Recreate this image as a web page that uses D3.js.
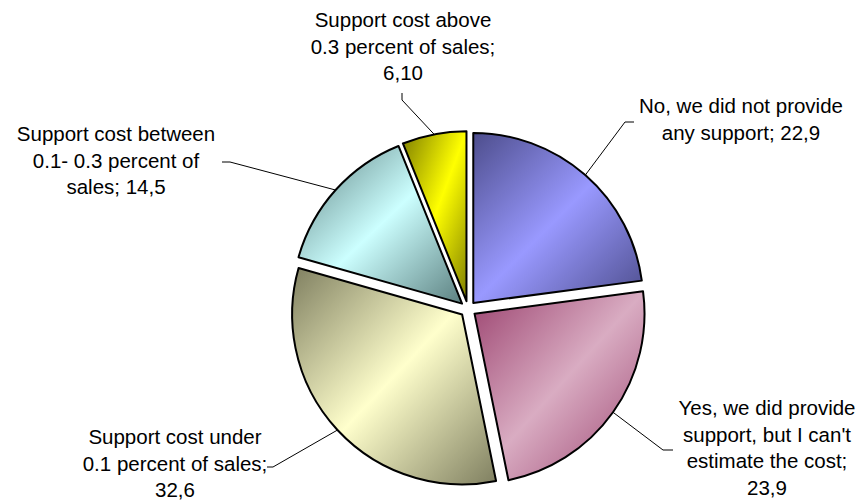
<!DOCTYPE html>
<html>
<head>
<meta charset="utf-8">
<script src="https://cdn.jsdelivr.net/npm/d3@7/dist/d3.min.js"></script>
<style>
  body { margin: 0; background: #fff; }
  svg { display: block; }
  .lbl { font-family: "Liberation Sans", Arial, sans-serif; font-size: 20.5px; fill: #000; }
</style>
</head>
<body>
<div id="chart"></div>
<script>
const svgWidth = 860;
const svgHeight = 504;

// data, clockwise from 12 o'clock
const categories = [
    "No, we did not provide\nany support",
    "Yes, we did provide\nsupport, but I can't\nestimate the cost",
    "Support cost under\n0.1 percent of sales",
    "Support cost between\n0.1- 0.3 percent of\nsales",
    "Support cost above\n0.3 percent of sales"
];
const values = [22.9, 23.9, 32.6, 14.5, 6.1];
const valueLabels = ["22,9", "23,9", "32,6", "14,5", "6,10"];

// gradient colours (dark edge, light middle)
const darkColors = ["#4d4d8c", "#9c4470", "#7f7f60", "#5c8080", "#7f7f00"];
const lightColors = ["#9999ff", "#d9acc2", "#ffffcc", "#ccffff", "#ffff00"];

// label placement: text centre x, first baseline, separator, leader elbow + end
const labelLayout = [
    {x: 741, y: 113, sep: "; ", leader: [[625, 122], [634, 122]]},
    {x: 767, y: 415, sep: ";\n", leader: [[663, 450], [673, 450]]},
    {x: 175, y: 444, sep: ";\n", leader: [[273, 467], [267, 467]]},
    {x: 116, y: 141, sep: "; ", leader: [[230, 162], [222, 162]]},
    {x: 403, y: 27, sep: ";\n", leader: [[402, 100], [402, 93]]}
];
const lineHeight = 26.7;

const cx = 468, cy = 309;
const radius = 170;
const explode = 8;

const svg = d3.select("#chart")
    .append("svg")
    .attr("width", svgWidth)
    .attr("height", svgHeight);

const defs = svg.append("defs");
values.forEach((v, i) => {
    const g = defs.append("linearGradient")
        .attr("id", "grad" + i)
        .attr("x1", 0).attr("y1", 0)
        .attr("x2", 1).attr("y2", 1);
    g.append("stop").attr("offset", "0%").attr("stop-color", darkColors[i]);
    g.append("stop").attr("offset", "50%").attr("stop-color", lightColors[i]);
    g.append("stop").attr("offset", "100%").attr("stop-color", darkColors[i]);
});

const pie = d3.pie().sort(null).value(d => d)(values);
const arc = d3.arc().innerRadius(0).outerRadius(radius);

const chartGroup = svg.append("g")
    .attr("transform", `translate(${cx}, ${cy})`);

// offset of each exploded slice
function shift(d) {
    const a = (d.startAngle + d.endAngle) / 2;
    return [Math.sin(a) * explode, -Math.cos(a) * explode];
}

chartGroup.selectAll("path.slice")
    .data(pie)
    .enter()
    .append("path")
    .classed("slice", true)
    .attr("transform", d => `translate(${shift(d)[0]}, ${shift(d)[1]})`)
    .attr("d", arc)
    .attr("fill", (d, i) => `url(#grad${i})`)
    .attr("stroke", "#000")
    .attr("stroke-width", 2)
    .attr("stroke-linejoin", "round");

// leader lines start on the slice edge at mid angle
pie.forEach((d, i) => {
    const a = (d.startAngle + d.endAngle) / 2;
    const [sx, sy] = shift(d);
    const p0 = [cx + sx + Math.sin(a) * radius, cy + sy - Math.cos(a) * radius];
    const pts = [p0].concat(labelLayout[i].leader);
    svg.append("path")
        .attr("d", d3.line()(pts))
        .attr("fill", "none")
        .attr("stroke", "#000")
        .attr("stroke-width", 1);
});

// labels
categories.forEach((c, i) => {
    const L = labelLayout[i];
    const lines = (c + L.sep + valueLabels[i]).split("\n");
    const t = svg.append("text")
        .classed("lbl", true)
        .attr("text-anchor", "middle");
    lines.forEach((ln, k) => {
        t.append("tspan")
            .attr("x", L.x)
            .attr("y", L.y + k * lineHeight)
            .text(ln);
    });
});
</script>
</body>
</html>
